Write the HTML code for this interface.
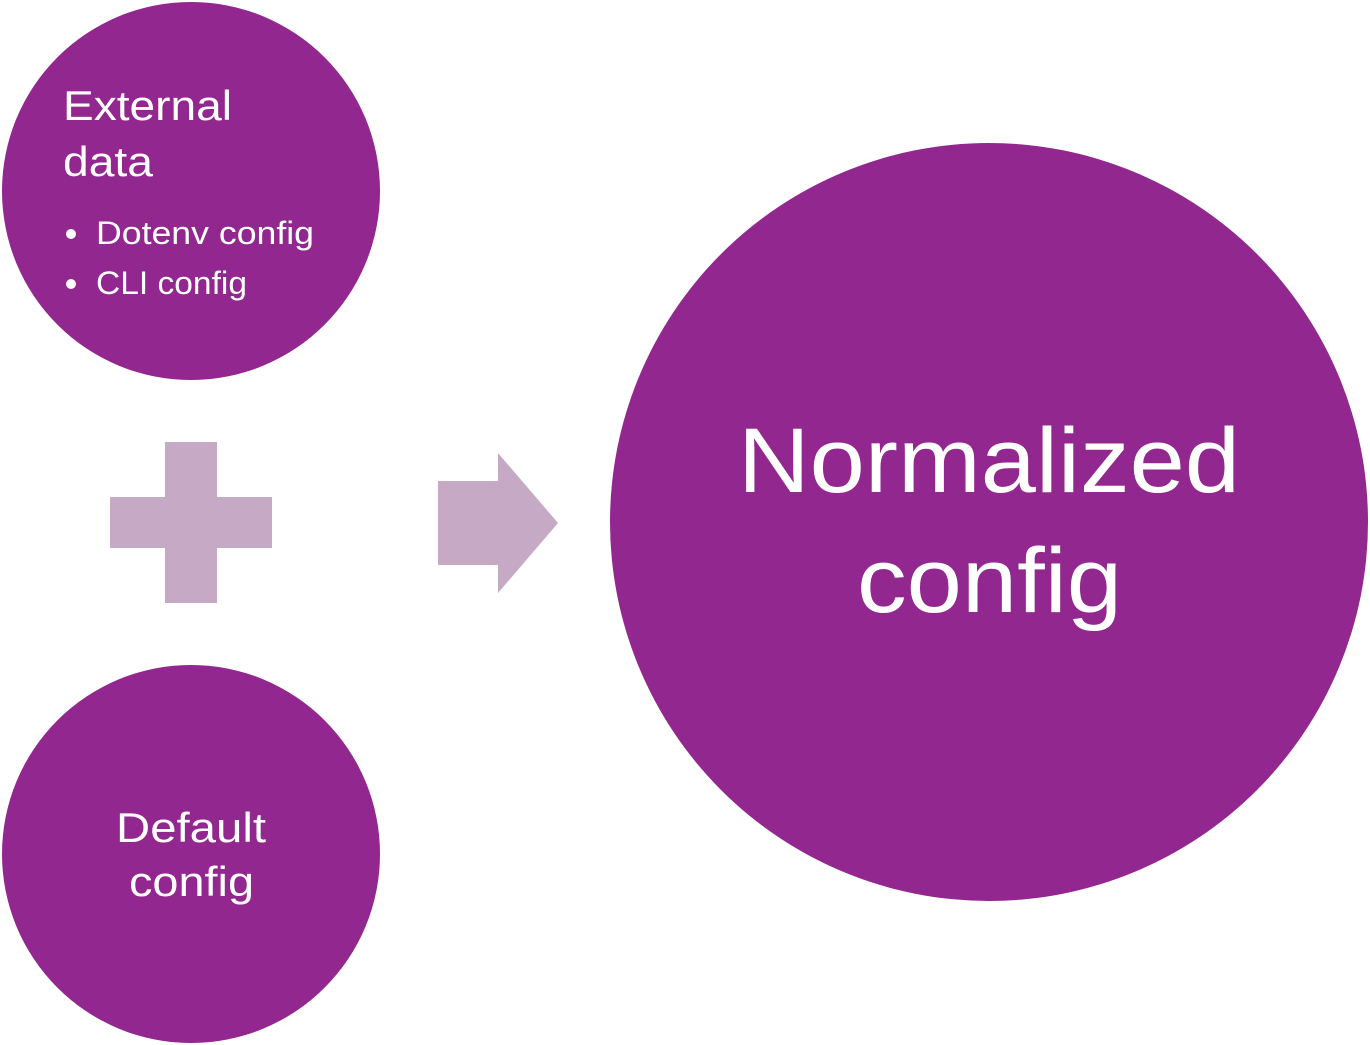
<!DOCTYPE html>
<html><head><meta charset="utf-8"><style>html,body{margin:0;padding:0;background:#fff}svg{display:block}</style></head>
<body>
<svg width="1370" height="1045" viewBox="0 0 1370 1045" xmlns="http://www.w3.org/2000/svg" font-family="Liberation Sans, sans-serif" fill="#fff">
<circle cx="191" cy="191" r="189" fill="#92278F"/>
<circle cx="191" cy="854" r="189" fill="#92278F"/>
<circle cx="989" cy="522" r="379" fill="#92278F"/>
<rect x="165" y="442" width="52" height="161" fill="#C6A9C5"/>
<rect x="110" y="497" width="162" height="51" fill="#C6A9C5"/>
<polygon points="438,481 498,481 498,453 558,523 498,593 498,565 438,565" fill="#C6A9C5"/>
<text x="63" y="120" font-size="42" textLength="169" lengthAdjust="spacingAndGlyphs">External</text>
<text x="63" y="176" font-size="42" textLength="90" lengthAdjust="spacingAndGlyphs">data</text>
<circle cx="71" cy="234" r="5"/>
<circle cx="71" cy="284" r="5"/>
<text x="96" y="244" font-size="32" textLength="218" lengthAdjust="spacingAndGlyphs">Dotenv config</text>
<text x="96" y="294" font-size="32" textLength="151" lengthAdjust="spacingAndGlyphs">CLI config</text>
<text x="116" y="842" font-size="42" textLength="150" lengthAdjust="spacingAndGlyphs">Default</text>
<text x="129" y="896" font-size="42" textLength="125" lengthAdjust="spacingAndGlyphs">config</text>
<text x="738" y="492" font-size="92" textLength="502" lengthAdjust="spacingAndGlyphs">Normalized</text>
<text x="857" y="612" font-size="92" textLength="265" lengthAdjust="spacingAndGlyphs">config</text>
</svg>
</body></html>
